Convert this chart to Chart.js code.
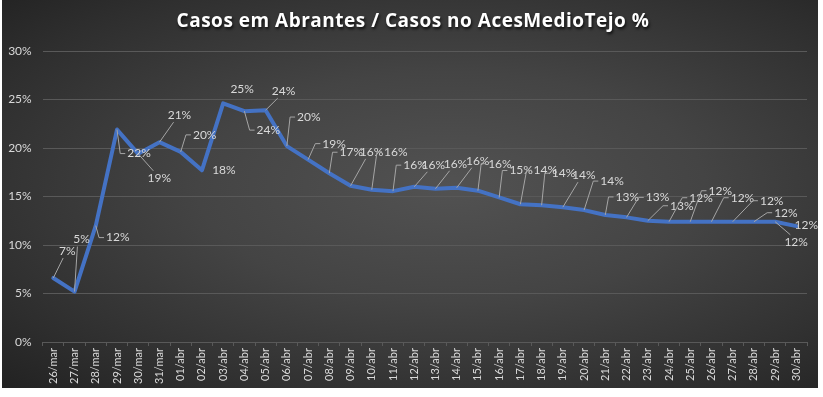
<!DOCTYPE html>
<html>
<head>
<meta charset="utf-8">
<script src="https://cdn.jsdelivr.net/npm/chart.js@4"></script>
<style>
  html, body { margin: 0; padding: 0; background: #ffffff; }
  #card {
    position: absolute; left: 2px; top: 0; width: 816px; height: 388px;
    background: radial-gradient(ellipse farthest-corner at 55% 48%, #525252 0%, #444444 40%, #2e2e2e 80%, #222222 100%);
  }
  canvas { display: block; }
</style>
</head>
<body>
<div id="card"><canvas id="chart" width="816" height="388"></canvas></div>
<script>
// ── data ───────────────────────────────────────────────
const categories = [
  '26/mar', '27/mar', '28/mar', '29/mar', '30/mar', '31/mar',
  '01/abr', '02/abr', '03/abr', '04/abr', '05/abr', '06/abr', '07/abr', '08/abr', '09/abr', '10/abr',
  '11/abr', '12/abr', '13/abr', '14/abr', '15/abr', '16/abr', '17/abr', '18/abr', '19/abr', '20/abr',
  '21/abr', '22/abr', '23/abr', '24/abr', '25/abr', '26/abr', '27/abr', '28/abr', '29/abr', '30/abr',
];
// Casos em Abrantes / Casos no AcesMedioTejo (%)
const shareValues = [
  6.6, 5.2, 12.0, 21.9, 19.4, 20.6,
  19.6, 17.7, 24.6, 23.8, 23.9, 20.2, 18.8, 17.4, 16.1, 15.7,
  15.55, 16.0, 15.8, 15.9, 15.6, 14.9, 14.2, 14.1, 13.9, 13.6,
  13.1, 12.85, 12.5, 12.4, 12.4, 12.4, 12.4, 12.4, 12.4, 11.95,
];
const yTicks = [0, 5, 10, 15, 20, 25, 30];

// label placement relative to each point: [dx, dy, leader line?]
const labelOffsets = [
  [14, -27, 1], [7, -52, 1], [22, 12, 1], [22, 24, 1], [21, 24, 1], [20, -27, 1],
  [24, -17, 1], [22, 0, 0], [19, -14, 0], [24, 19, 1], [18, -19, 1], [22, -29, 1],
  [26, -16, 1], [22, -21, 1], [21, -34, 1], [24, -38, 1], [22, -26, 1], [19, -22, 1],
  [20, -25, 1], [21, -27, 1], [22, -27, 1], [22, -27, 1], [25, -34, 1], [22, -32, 1],
  [21, -32, 1], [28, -29, 1], [22, -18, 1], [31, -20, 1], [34, -15, 1], [32, -24, 1],
  [30, -31, 1], [31, -24, 1], [39, -21, 1], [32, -9, 1], [21, 20, 1], [10, -1, 0],
];

const TEXT = '#d9d9d9';
const GRID = '#595959';
const FONT = 'Lato, "Liberation Sans", sans-serif';

// ── title with shadow ──────────────────────────────────
const titlePlugin = {
  id: 'shadowTitle',
  afterDraw(chart) {
    const ctx = chart.ctx;
    ctx.save();
    ctx.font = 'bold 19px "Open Sans", sans-serif';
    ctx.letterSpacing = '0.5px';
    ctx.fillStyle = '#ffffff';
    ctx.textAlign = 'center';
    ctx.textBaseline = 'middle';
    ctx.shadowColor = 'rgba(0,0,0,0.8)';
    ctx.shadowOffsetX = 1;
    ctx.shadowOffsetY = 2;
    ctx.shadowBlur = 3;
    ctx.fillText('Casos em Abrantes / Casos no AcesMedioTejo %', chart.width / 2 + 3, 22);
    ctx.restore();
  }
};

// ── data labels with leader lines ──────────────────────
const labelPlugin = {
  id: 'pctLabels',
  afterDatasetsDraw(chart) {
    const ctx = chart.ctx;
    const meta = chart.getDatasetMeta(0);
    ctx.save();
    ctx.font = '12px ' + FONT;
    ctx.textBaseline = 'middle';
    ctx.textAlign = 'center';
    meta.data.forEach((pt, i) => {
      const [dx, dy, leader] = labelOffsets[i];
      const text = Math.round(shareValues[i]) + '%';
      const w = ctx.measureText(text).width;
      const cx = pt.x + dx, cy = pt.y + dy;
      if (leader) {
        const lx = cx - w / 2 - 2;
        ctx.strokeStyle = '#a6a6a6';
        ctx.lineWidth = 1;
        ctx.beginPath();
        ctx.moveTo(pt.x, pt.y);
        if (pt.x > lx - 8) {
          // label sits right above/below the point: straight line to its edge
          ctx.lineTo(cx - w / 4, cy + (dy < 0 ? 7 : -7));
        } else {
          ctx.lineTo(lx - 5, cy);
          ctx.lineTo(lx, cy);
        }
        ctx.stroke();
      }
      ctx.fillStyle = TEXT;
      ctx.fillText(text, cx, cy);
    });
    ctx.restore();
  }
};

new Chart(document.getElementById('chart'), {
  type: 'line',
  data: {
    labels: categories,
    datasets: [{
      label: 'Casos em Abrantes / Casos no AcesMedioTejo %',
      data: shareValues,
      borderColor: '#4472c4',
      borderWidth: 4,
      borderJoinStyle: 'round',
      borderCapStyle: 'round',
      pointRadius: 0,
      tension: 0,
      fill: false,
    }],
  },
  options: {
    responsive: false, animation: false,
    layout: { padding: { top: 51, right: 11, left: 0, bottom: 0 } },
    plugins: { legend: { display: false }, tooltip: { enabled: false } },
    scales: {
      x: {
        offset: true,
        grid: { display: true, drawOnChartArea: false, drawTicks: true, tickLength: 4, color: GRID, offset: true },
        border: { display: true, color: GRID },
        ticks: { color: TEXT, font: { family: FONT, size: 11 }, autoSkip: false, minRotation: 90, maxRotation: 90, padding: 2 },
        afterFit: s => { s.height = 46; },
      },
      y: {
        min: 0, max: 30,
        afterBuildTicks: s => { s.ticks = yTicks.map(v => ({ value: v })); },
        grid: { color: GRID, drawTicks: false },
        border: { display: false },
        ticks: { color: TEXT, font: { family: FONT, size: 12 }, padding: 11, callback: v => v + '%' },
        afterFit: s => { s.width = 40.7; },
      },
    },
  },
  plugins: [labelPlugin, titlePlugin],
});
</script>
</body>
</html>
